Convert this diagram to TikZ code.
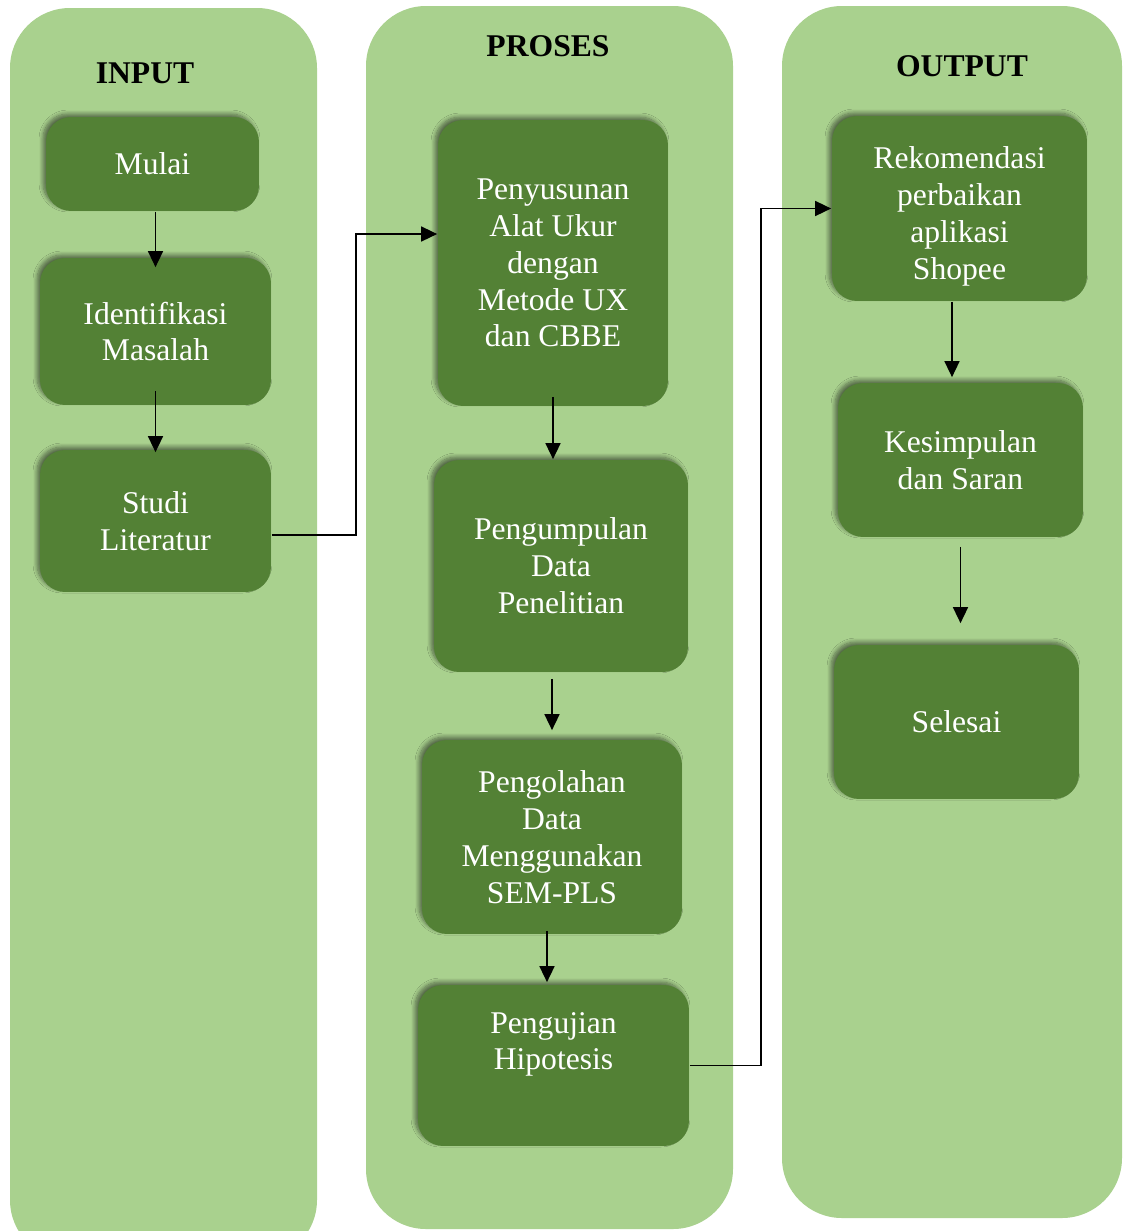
\documentclass[tikz,border=0pt]{standalone}
\usepackage{fontspec}
\setmainfont{Liberation Serif}
\usetikzlibrary{arrows.meta,shadows.blur}
\definecolor{lane}{HTML}{A9D18E}
\definecolor{stepgreen}{HTML}{538135}
\begin{document}
\begin{tikzpicture}[x=0.02cm, y=-0.02cm,
                    line width=1pt,
                    ]
    \tikzstyle{column}=[fill=lane, rounded corners=1.2cm]
    \tikzstyle{stepbox}=[rectangle, rounded corners=0.5cm, fill=stepgreen, text=white,
        align=center, font=\fontsize{18}{21}\selectfont, inner sep=2pt,
        blur shadow={shadow xshift=-0.6mm, shadow yshift=0.6mm, shadow blur radius=0.8mm,
                     shadow blur steps=8, shadow opacity=50}]
    \tikzstyle{heading}=[font=\fontsize{18}{21}\selectfont\bfseries]
    \tikzstyle{arr}=[draw=black, line width=0.9pt, -{Triangle[length=0.32cm,width=0.3cm]}]

    \useasboundingbox (0,0) rectangle (1126,1231);

    % lanes
    \fill[column] (10,8) rectangle (317,1260);
    \fill[column] (366,6) rectangle (733,1229);
    \fill[column] (782,6) rectangle (1122,1218);

    \node[heading] (hin) at (145,73) {INPUT};
    \node[heading] (hpro) at (548,46) {PROSES};
    \node[heading] (hout) at (962,66) {OUTPUT};

    % input
    \node[stepbox, minimum width=4.26cm, minimum height=1.88cm] (mulai) at (152.5,164) {Mulai};
    \node[stepbox, minimum width=4.62cm, minimum height=2.94cm] (ident) at (155.5,331.5) {Identifikasi\\Masalah};
    \node[stepbox, minimum width=4.62cm, minimum height=2.84cm] (studi) at (155.5,521) {Studi\\Literatur};

    % proses
    \node[stepbox, minimum width=4.6cm, minimum height=5.72cm] (susun) at (553,263)
        {Penyusunan\\Alat Ukur\\dengan\\Metode UX\\dan CBBE};
    \node[stepbox, minimum width=5.08cm, minimum height=4.24cm] (kumpul) at (561,566)
        {Pengumpulan\\Data\\Penelitian};
    \node[stepbox, minimum width=5.2cm, minimum height=3.88cm] (olah) at (552,837)
        {Pengolahan\\Data\\Menggunakan\\SEM-PLS};
    \node[stepbox, minimum width=5.42cm, minimum height=3.22cm, text depth=0.98cm] (uji) at (553.5,1065.5)
        {Pengujian\\Hipotesis};

    % output
    \node[stepbox, minimum width=5.1cm, minimum height=3.7cm, text height=2.97cm] (rekom) at (959.5,208.5)
        {Rekomendasi\\perbaikan\\aplikasi\\Shopee};
    \node[stepbox, minimum width=4.9cm, minimum height=3.08cm] (simpul) at (960.5,460)
        {Kesimpulan\\dan Saran};
    \node[stepbox, minimum width=4.9cm, minimum height=3.08cm] (selesai) at (956.5,722) {Selesai};

    % arrows
    \draw[arr] (ident.north |- mulai.south) -- ([yshift=-0.2cm]ident.north);
    \draw[arr] ([yshift=0.3cm]ident.south) -- ([yshift=-0.06cm]studi.north);
    \draw[arr] ([yshift=-0.28cm]studi.east) -- ++(84,0) |- ([yshift=0.58cm]susun.west);
    \draw[arr] ([yshift=0.2cm]susun.south) -- (susun.south |- kumpul.north);
    \draw[arr] ([yshift=-0.12cm]olah.north |- kumpul.south) -- ([yshift=0.18cm]olah.north);
    \draw[arr] ([xshift=-0.1cm,yshift=0.08cm]olah.south) -- ([xshift=-0.1cm,yshift=0.04cm]uji.north -| olah.south);
    \draw[arr] (uji.east) -- ++(71,0) |- (rekom.west);
    \draw[arr] ([xshift=-0.15cm]rekom.south) -- ([xshift=-0.15cm,yshift=0.1cm]rekom.south |- simpul.north);
    \draw[arr] ([yshift=-0.18cm]simpul.south) -- ([yshift=0.42cm]simpul.south |- selesai.north);
\end{tikzpicture}
\end{document}
